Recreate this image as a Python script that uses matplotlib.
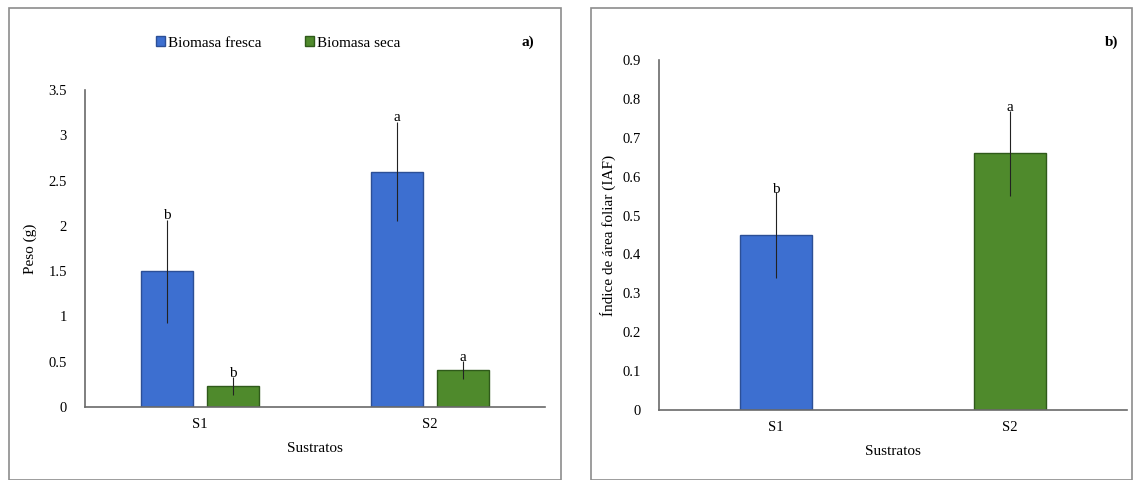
import numpy as np
import matplotlib
matplotlib.use("Agg")
import matplotlib.pyplot as plt
from matplotlib.patches import Rectangle

plt.rcParams['font.family'] = ['Liberation Serif', 'DejaVu Serif']

# data, panel a)
sustratos = ["S1", "S2"]
fresca = [1.50, 2.60]
fresca_err = [0.57, 0.55]
fresca_let = ["b", "a"]
seca = [0.23, 0.41]
seca_err = [0.10, 0.10]
seca_let = ["b", "a"]

# data, panel b)
iaf = [0.45, 0.66]
iaf_err = [0.11, 0.11]
iaf_let = ["b", "a"]

blue = "#3d6fd0"
blue_edge = "#2c4f96"
green = "#4f8a2c"
green_edge = "#2f5a1a"
axcol = "#6a6a6a"

fig = plt.figure(figsize=(11.38, 4.8), dpi=100)

# outer frames round each panel
for x0, x1 in [(9, 561), (591, 1132)]:
    fig.patches.append(Rectangle((x0 / 1138, 0), (x1 - x0) / 1138, (480 - 8) / 480,
                                 transform=fig.transFigure, fill=False,
                                 edgecolor="#8c8c8c", lw=1.2))

def style(ax):
    for s in ["top", "right"]:
        ax.spines[s].set_visible(False)
    ax.spines["left"].set_color(axcol)
    ax.spines["bottom"].set_color(axcol)
    ax.spines["left"].set_linewidth(1.2)
    ax.spines["bottom"].set_linewidth(1.2)
    ax.tick_params(axis="y", length=0, labelsize=10.5, pad=13)
    ax.tick_params(axis="x", length=0, labelsize=10.5, pad=8)

# ---- panel a)
ax1 = fig.add_axes([85 / 1138, 73 / 480, 460 / 1138, 317 / 480])
x = np.arange(len(sustratos))
w = 0.226
off = 0.143
ax1.bar(x - off, fresca, w, color=blue, edgecolor=blue_edge, lw=1, label="Biomasa fresca")
ax1.bar(x + off, seca, w, color=green, edgecolor=green_edge, lw=1, label="Biomasa seca")
ax1.errorbar(x - off, fresca, yerr=fresca_err, fmt="none", ecolor="#222222", elinewidth=0.8, capsize=0)
ax1.errorbar(x + off, seca, yerr=seca_err, fmt="none", ecolor="#222222", elinewidth=0.8, capsize=0)
for i in range(len(x)):
    ax1.text(x[i] - off, fresca[i] + fresca_err[i] - 0.03, fresca_let[i], ha="center", va="bottom", fontsize=11)
    ax1.text(x[i] + off, seca[i] + seca_err[i] - 0.03, seca_let[i], ha="center", va="bottom", fontsize=11)
ax1.set_xlim(-0.5, 1.5)
ax1.set_ylim(0, 3.5)
ax1.set_yticks(np.arange(0, 3.51, 0.5))
ax1.set_yticklabels(["0", "0.5", "1", "1.5", "2", "2.5", "3", "3.5"])
ax1.set_xticks(x)
ax1.set_xticklabels(sustratos)
style(ax1)
ax1.set_xlabel("Sustratos", fontsize=11, labelpad=8)
ax1.set_ylabel("Peso (g)", fontsize=11, labelpad=8)
ax1.legend(loc="center", bbox_to_anchor=(0.42, 1.148), ncol=2, frameon=False,
           fontsize=11, handlelength=0.6, handleheight=0.6, handletextpad=0.2, columnspacing=2.8)
fig.text(528 / 1138, 1 - 42 / 480, "a)", fontsize=11, fontweight="bold", ha="center", va="center")

# ---- panel b)
ax2 = fig.add_axes([659 / 1138, 70 / 480, 468 / 1138, 350 / 480])
w2 = 0.31
ax2.bar(x, iaf, w2, color=[blue, green], edgecolor=[blue_edge, green_edge], lw=1)
ax2.errorbar(x, iaf, yerr=iaf_err, fmt="none", ecolor="#222222", elinewidth=0.8, capsize=0)
for i in range(len(x)):
    ax2.text(x[i], iaf[i] + iaf_err[i] - 0.01, iaf_let[i], ha="center", va="bottom", fontsize=11)
ax2.set_xlim(-0.5, 1.5)
ax2.set_ylim(0, 0.9)
ax2.set_yticks(np.arange(0, 0.91, 0.1))
ax2.set_yticklabels(["0", "0.1", "0.2", "0.3", "0.4", "0.5", "0.6", "0.7", "0.8", "0.9"])
ax2.set_xticks(x)
ax2.set_xticklabels(sustratos)
style(ax2)
ax2.set_xlabel("Sustratos", fontsize=11, labelpad=8)
ax2.set_ylabel("Índice de área foliar (IAF)", fontsize=11, labelpad=5)
fig.text(1112 / 1138, 1 - 42 / 480, "b)", fontsize=11, fontweight="bold", ha="center", va="center")

fig.savefig("out.png", dpi=100)
